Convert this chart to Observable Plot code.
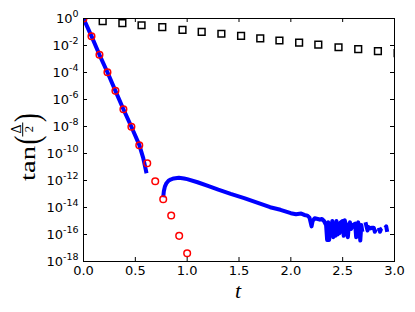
<!DOCTYPE html>
<html><head><meta charset="utf-8">
<script src="https://cdn.jsdelivr.net/npm/d3@7"></script>
<script src="https://cdn.jsdelivr.net/npm/@observablehq/plot@0.6"></script>
<style>body{margin:0;background:#fff}#chart svg{display:block}</style>
</head><body><div id="chart"></div>
<script>
// red circles: t and log10 value
const circleT   = [0, 0.077, 0.154, 0.231, 0.308, 0.385, 0.462, 0.538, 0.615, 0.692, 0.769, 0.846, 0.923, 1.0];
const circleExp = [0, -1.31, -2.69, -3.98, -5.36, -6.72, -8.02, -9.39, -10.72, -12.05, -13.39, -14.59, -16.1, -17.39];
// black squares
const squareT   = [0.185, 0.375, 0.56, 0.76, 0.955, 1.14, 1.33, 1.52, 1.705, 1.89, 2.08, 2.265, 2.46, 2.65, 2.84, 3.03];
const squareExp = [-0.20, -0.35, -0.50, -0.64, -0.84, -0.99, -1.13, -1.28, -1.48, -1.63, -1.78, -1.93, -2.13, -2.27, -2.42, -2.57];
// blue curve (null = gap)
const lineT = [0, 0.077, 0.154, 0.231, 0.308, 0.385, 0.462, 0.538, 0.575, 0.608, 0.69,
  0.769, 0.775, 0.785, 0.80, 0.82, 0.84, 0.87, 0.92, 0.97, 1.00, 1.10, 1.20, 1.30, 1.42, 1.55, 1.71, 1.80, 1.90, 2.00, 2.05,
  2.10, 2.13, 2.16, 2.18, 2.20, 2.21, 2.23, 2.26, 2.28, 2.30, 2.32, 2.34, 2.35, 2.36, 2.37, 2.38, 2.39, 2.40, 2.41, 2.42,
  2.43, 2.44, 2.45, 2.46, 2.47, 2.48, 2.50, 2.51, 2.52, 2.54, 2.55, 2.56, 2.57, 2.58, 2.60, 2.62, 2.63, 2.64, 2.65, 2.66,
  2.67, 2.68, 2.69, 2.70, 2.72, 2.73, 2.74, 2.75, 2.77, 2.78, 2.80, 2.81, 2.82, 2.84, 2.85, 2.86, 2.87, 2.88, 2.89, 2.91, 2.92, 2.93];
const lineExp = [0, -1.31, -2.69, -3.98, -5.36, -6.72, -8.02, -9.36, -10.3, -11.46, null,
  -13.24, -12.8, -12.45, -12.2, -12.02, -11.93, -11.85, -11.8, -11.85, -11.9, -12.13, -12.4, -12.68, -12.99, -13.3, -13.73, -13.98, -14.17, -14.42, -14.5,
  -14.45, -14.55, -14.6, -14.75, -15.4, -15.0, -14.8, -14.85, -14.9, -14.85, -15.0, -15.3, -16.4, -15.1, -16.4, -15.2, -15.8, -15.0, -16.2, -15.3,
  -16.1, -15.0, -16.0, -15.2, -15.9, -15.1, -15.0, -16.1, -14.95, -15.6, -16.2, -15.3, -15.1, -15.6, -15.3, -15.2, -16.2, -15.4, -15.1, -15.5,
  -16.45, -15.3, -15.8, null, -15.1, -15.4, -15.7, -15.45, -15.55, -15.5, -15.5, -15.8, -15.6, null, -15.5, -15.8, -15.6, -15.55, null, -15.5, -15.4, -15.8];
// axis ticks
const xTicks = [0, 0.5, 1.0, 1.5, 2.0, 2.5, 3.0];
const yTickExp = [0, -2, -4, -6, -8, -10, -12, -14, -16, -18];

const toVal = e => e === null ? null : Math.pow(10, e);
const circles = circleT.map((t, i) => ({t, v: toVal(circleExp[i])}));
const squares = squareT.map((t, i) => ({t, v: toVal(squareExp[i])}));
const curve = lineT.map((t, i) => ({t, v: toVal(lineExp[i])}));
const yTicks = yTickExp.map(e => Math.pow(10, e));

const W = 415, H = 312, mL = 83, mR = 21, mT = 18, mB = 51;
const pw = W - mL - mR, ph = H - mT - mB, tl = 4;

const chart = Plot.plot({
  width: W, height: H,
  marginLeft: mL, marginRight: mR, marginTop: mT, marginBottom: mB,
  style: {fontFamily: "DejaVu Sans", fontSize: "13px", background: "white", color: "black"},
  x: {domain: [0, 3]},
  y: {type: "log", domain: [1e-18, 1]},
  marks: [
    Plot.line(curve, {x: "t", y: "v", stroke: "#0000ff", strokeWidth: 4, strokeLinecap: "butt", strokeLinejoin: "round", clip: true}),
    Plot.dot(circles, {x: "t", y: "v", r: 3.3, stroke: "red", strokeWidth: 1.5, fill: "none", clip: true}),
    Plot.dot(squares, {x: "t", y: "v", symbol: "square", r: 3.8, stroke: "black", strokeWidth: 1.5, fill: "none", clip: true}),
    Plot.tickY(yTicks, {y: d => d, insetRight: pw - tl, stroke: "black"}),
    Plot.tickY(yTicks, {y: d => d, insetLeft: pw - tl, stroke: "black"}),
    Plot.tickX(xTicks, {x: d => d, insetTop: ph - tl, stroke: "black"}),
    Plot.tickX(xTicks, {x: d => d, insetBottom: ph - tl, stroke: "black"}),
    Plot.frame({stroke: "black", strokeWidth: 1}),
    Plot.axisX({ticks: xTicks, tickSize: 0, tickPadding: 4, tickFormat: d3.format(".1f"), label: null, fontSize: 13}),
    Plot.axisY({ticks: yTicks, tickSize: 0, tickPadding: 5, tickFormat: d => "10^" + Math.round(Math.log10(d)), label: null, fontSize: 13})
  ]
});
document.getElementById("chart").appendChild(chart);

const svg = d3.select(chart);
// superscripts on y tick labels
svg.selectAll('g[aria-label="y-axis tick label"] text').each(function() {
  const s = d3.select(this);
  const txt = s.text();
  const exp = txt.split("^")[1];
  s.text(null);
  s.append("tspan").text("10");
  s.append("tspan").attr("dy", "-6").attr("font-size", "9.5").text(exp);
});

// y label: tan(Δ/2), rotated
const g = svg.append("g").attr("transform", "translate(35,145) rotate(-90)")
  .attr("font-family", "Liberation Serif").attr("fill", "black").attr("text-anchor", "start");
g.append("text").attr("x", -36).attr("y", 0).attr("font-size", 21)
  .attr("textLength", 35).attr("lengthAdjust", "spacingAndGlyphs").text("tan");
g.append("text").attr("transform", "translate(0.5,4) scale(0.75,1)").attr("font-size", 35).text("(");
g.append("text").attr("x", 16).attr("y", -14).attr("font-size", 14).attr("text-anchor", "middle").text("Δ");
g.append("line").attr("x1", 8.5).attr("x2", 22.5).attr("y1", -12.3).attr("y2", -12.3).attr("stroke", "black").attr("stroke-width", 1);
g.append("text").attr("x", 16).attr("y", -2).attr("font-size", 12.5).attr("text-anchor", "middle").text("2");
g.append("text").attr("transform", "translate(23,4) scale(0.75,1)").attr("font-size", 35).text(")");

// x label
svg.append("text").attr("x", 238).attr("y", 298).attr("text-anchor", "middle")
  .attr("font-family", "Liberation Serif").attr("font-style", "italic").attr("font-size", 22).attr("fill", "black").text("t");
</script>
</body></html>
